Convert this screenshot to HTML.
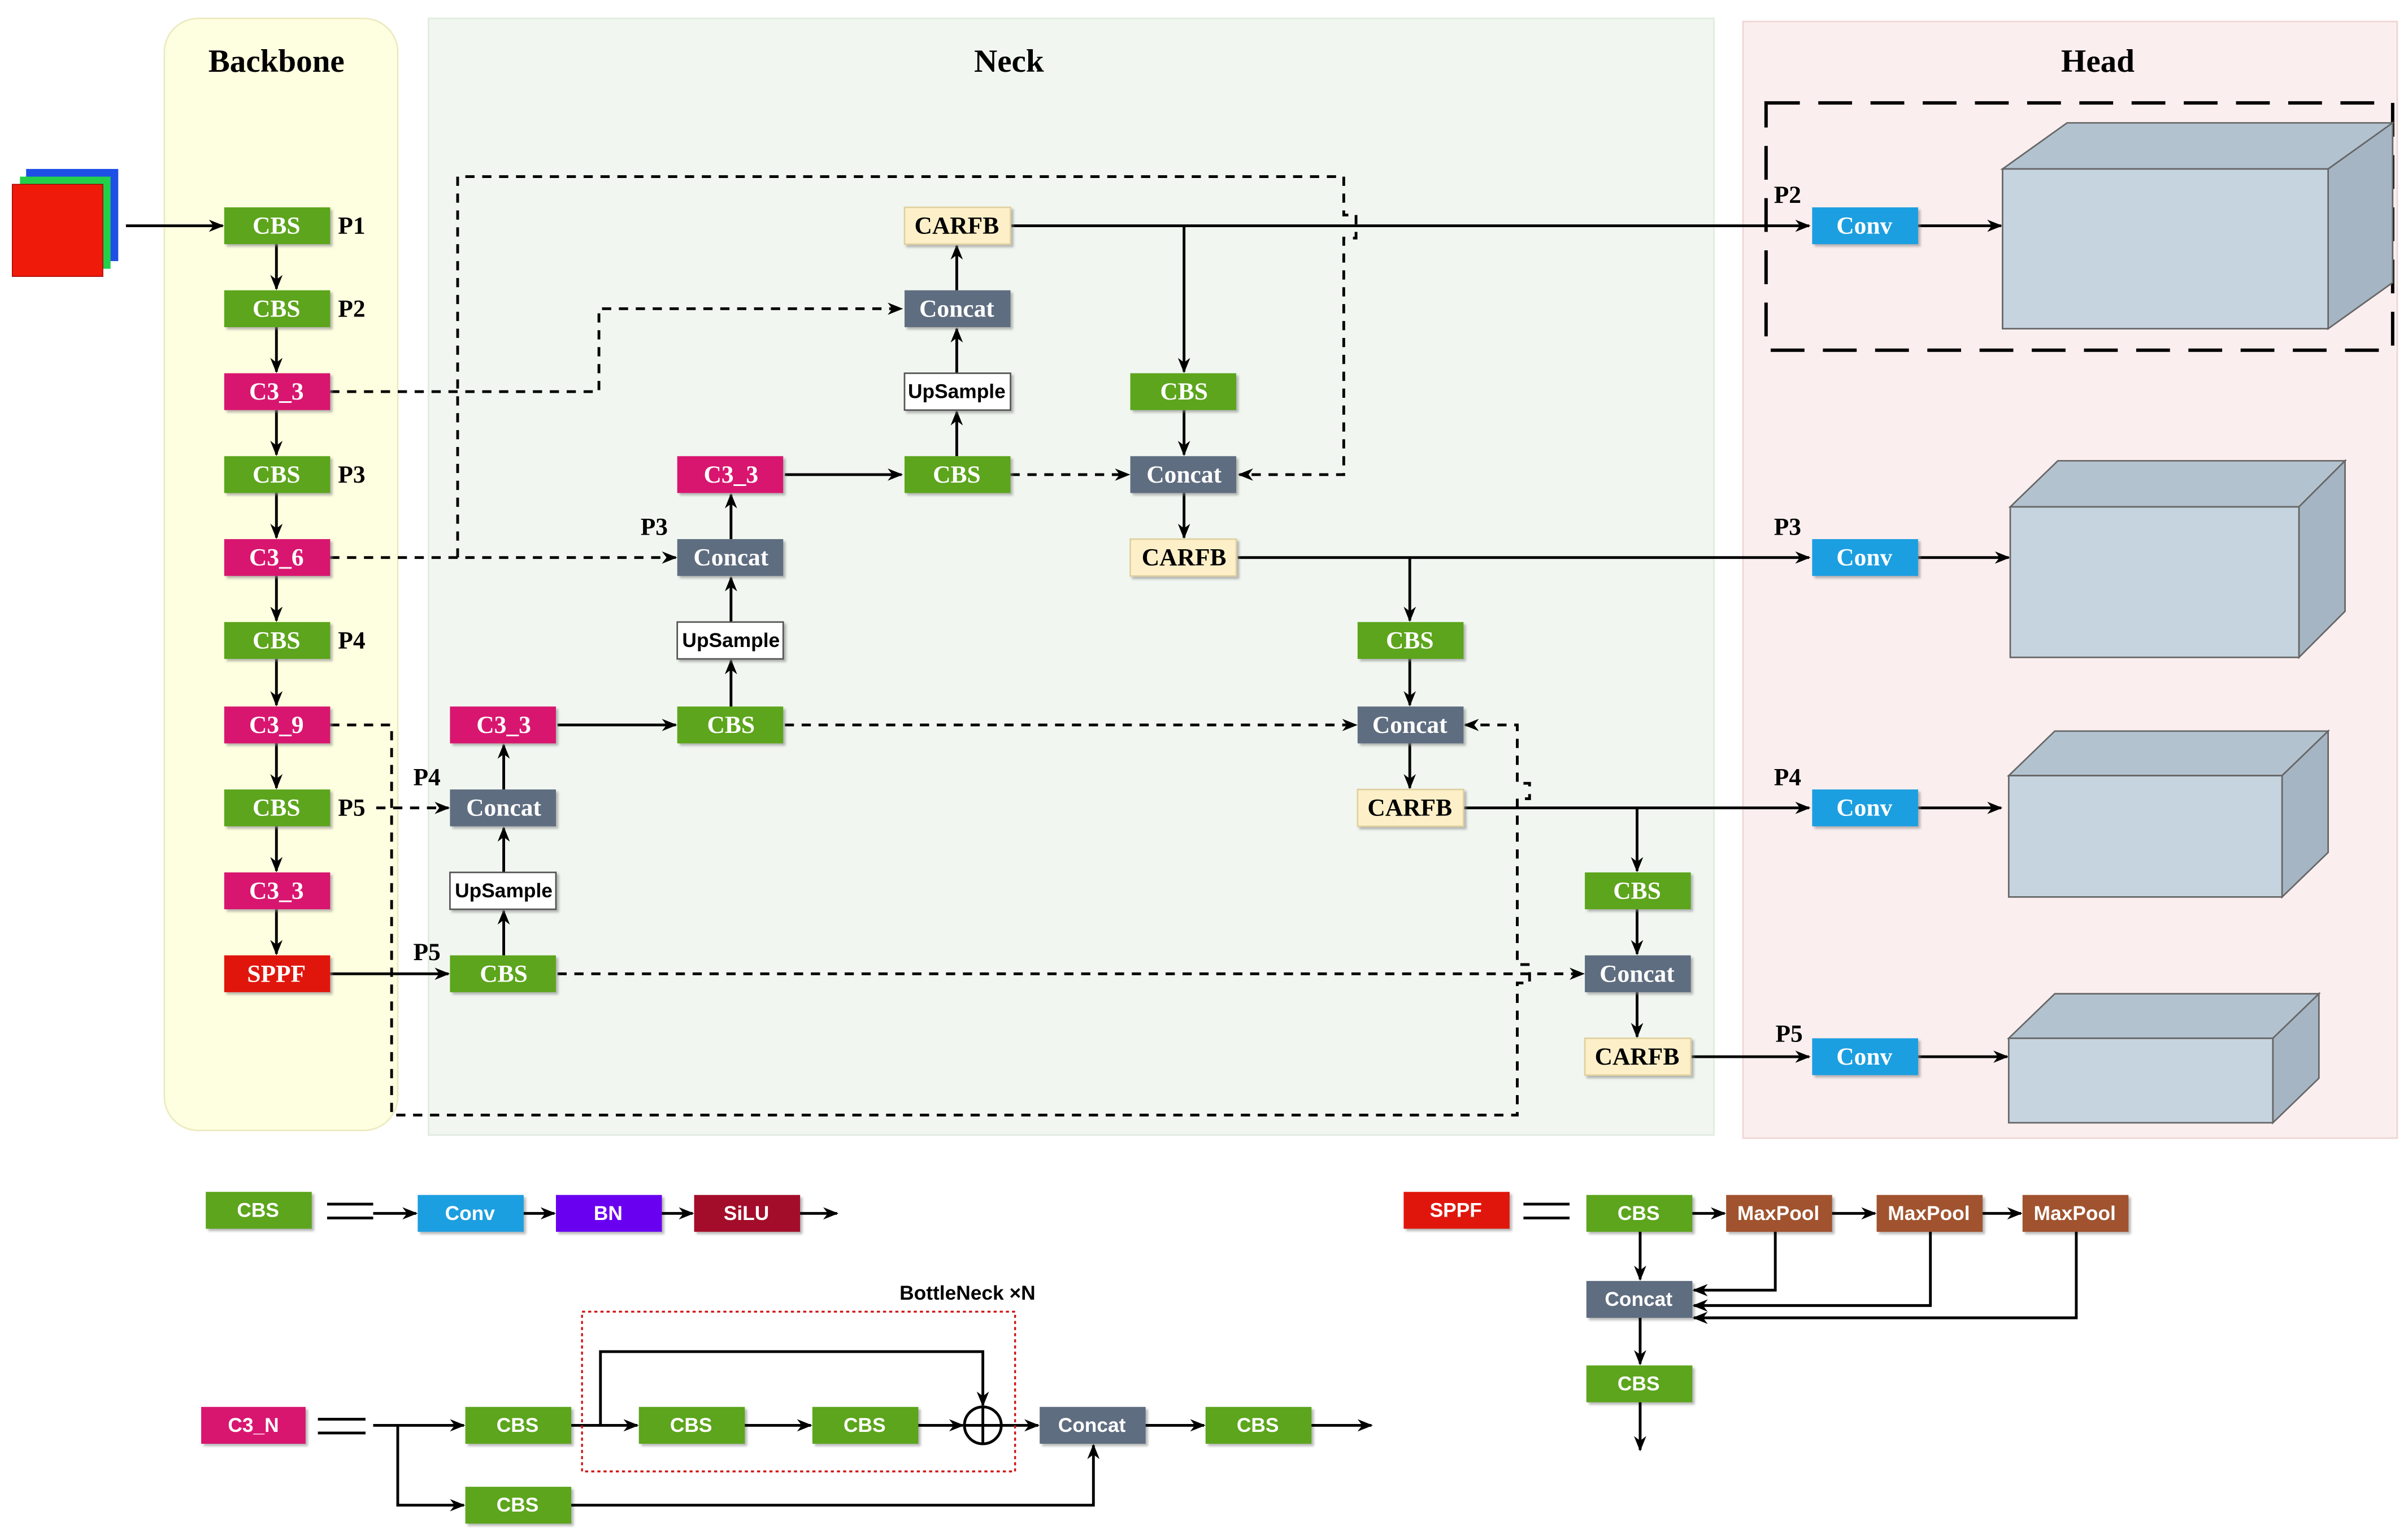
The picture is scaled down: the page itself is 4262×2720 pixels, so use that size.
<!DOCTYPE html>
<html><head><meta charset="utf-8"><style>
html,body{margin:0;padding:0;background:#fff}
svg{display:block}
.s{font-family:"Liberation Serif",serif;font-weight:bold;font-size:16px;text-anchor:middle;dominant-baseline:central}
.a{font-family:"Liberation Sans",sans-serif;font-weight:bold;font-size:13px;text-anchor:middle;dominant-baseline:central}
.w{fill:#fff}
.k{fill:#000}
.ln{stroke:#000;stroke-width:1.8;fill:none}
.ds{stroke:#000;stroke-width:1.8;fill:none;stroke-dasharray:6,5}
</style></head><body>
<svg width="4262" height="2720" viewBox="0 0 1568 1000.7" preserveAspectRatio="none" xmlns="http://www.w3.org/2000/svg">
<defs>
<marker id="ar" markerWidth="10" markerHeight="8" refX="9" refY="4" orient="auto" markerUnits="userSpaceOnUse">
<path d="M0,0 L10,4 L0,8 L3,4 z" fill="#000"/></marker>
<filter id="sh"><feDropShadow dx="1.5" dy="1.5" stdDeviation="0.8" flood-color="#888" flood-opacity="0.6"/></filter>
</defs>
<rect width="1568" height="1001" fill="#fff"/>
<rect x="107" y="12" width="152" height="724" rx="22" fill="#fefee0" stroke="#ecebc0"/>
<rect x="279" y="12" width="837" height="727" fill="#f1f7f0" stroke="#e2ebe0"/>
<rect x="1135" y="14" width="426" height="727" fill="#fbeeee" stroke="#efd5d5"/>
<text x="180" y="40" class="s k" style="font-size:21px">Backbone</text>
<text x="657" y="40" class="s k" style="font-size:21px">Neck</text>
<text x="1366" y="40" class="s k" style="font-size:21px">Head</text>
<rect x="17" y="110" width="60" height="60" fill="#1e50e6"/>
<rect x="13" y="115" width="59" height="60" fill="#22d04a"/>
<rect x="8" y="120" width="59" height="60" fill="#f01a0a" stroke="#900" stroke-width="0.5"/>
<path class="ln" d="M82,147 H145" marker-end="url(#ar)"/>

<rect x="1150" y="67" width="408" height="161" fill="none" stroke="#000" stroke-width="2.2" stroke-dasharray="22,12"/>

<g>
<path class="ln" d="M180,159V188" marker-end="url(#ar)"/>
<path class="ln" d="M180,213V242" marker-end="url(#ar)"/>
<path class="ln" d="M180,267V296" marker-end="url(#ar)"/>
<path class="ln" d="M180,321V350" marker-end="url(#ar)"/>
<path class="ln" d="M180,375V404" marker-end="url(#ar)"/>
<path class="ln" d="M180,429V459" marker-end="url(#ar)"/>
<path class="ln" d="M180,484V513" marker-end="url(#ar)"/>
<path class="ln" d="M180,538V567" marker-end="url(#ar)"/>
<path class="ln" d="M180,592V621" marker-end="url(#ar)"/>
<path class="ds" d="M215,255 H390 V201 H587" marker-end="url(#ar)"/>
<path class="ds" d="M215,363 H440" marker-end="url(#ar)"/>
<path class="ds" d="M298,363 V115 H875 V140 H883 V155 H875 V309 H807" marker-end="url(#ar)"/>
<path class="ds" d="M215,472 H255 V726 H988 V640 H996 V628 H988 V520 H996 V510 H988 V472 H954" marker-end="url(#ar)"/>
<path class="ds" d="M245,526 H292" marker-end="url(#ar)"/>
<path class="ds" d="M363,634 H1031" marker-end="url(#ar)"/>
<path class="ds" d="M511,472 H883" marker-end="url(#ar)"/>
<path class="ds" d="M658,309 H735" marker-end="url(#ar)"/>
<path class="ln" d="M215,634 H292" marker-end="url(#ar)"/>
<path class="ln" d="M511,309 H587" marker-end="url(#ar)"/>
<path class="ln" d="M363,472 H440" marker-end="url(#ar)"/>
<path class="ln" d="M623,297 V268" marker-end="url(#ar)"/>
<path class="ln" d="M623,243 V214" marker-end="url(#ar)"/>
<path class="ln" d="M623,189 V160" marker-end="url(#ar)"/>
<path class="ln" d="M476,460 V430" marker-end="url(#ar)"/>
<path class="ln" d="M476,405 V376" marker-end="url(#ar)"/>
<path class="ln" d="M476,351 V322" marker-end="url(#ar)"/>
<path class="ln" d="M328,622 V593" marker-end="url(#ar)"/>
<path class="ln" d="M328,568 V539" marker-end="url(#ar)"/>
<path class="ln" d="M328,514 V485" marker-end="url(#ar)"/>
<path class="ln" d="M658,147 H1178" marker-end="url(#ar)"/>
<path class="ln" d="M771,147 V242" marker-end="url(#ar)"/>
<path class="ln" d="M771,267 V296" marker-end="url(#ar)"/>
<path class="ln" d="M771,321 V350" marker-end="url(#ar)"/>
<path class="ln" d="M806,363 H1178" marker-end="url(#ar)"/>
<path class="ln" d="M918,363 V404" marker-end="url(#ar)"/>
<path class="ln" d="M918,429 V459" marker-end="url(#ar)"/>
<path class="ln" d="M918,484 V513" marker-end="url(#ar)"/>
<path class="ln" d="M953,526 H1178" marker-end="url(#ar)"/>
<path class="ln" d="M1066,526 V567" marker-end="url(#ar)"/>
<path class="ln" d="M1066,592 V621" marker-end="url(#ar)"/>
<path class="ln" d="M1066,646 V675" marker-end="url(#ar)"/>
<path class="ln" d="M1101,688 H1178" marker-end="url(#ar)"/>
<path class="ln" d="M1249,147 H1303" marker-end="url(#ar)"/>
<path class="ln" d="M1249,363 H1308" marker-end="url(#ar)"/>
<path class="ln" d="M1249,526 H1303" marker-end="url(#ar)"/>
<path class="ln" d="M1249,688 H1307" marker-end="url(#ar)"/>
</g>

<g stroke="#666" stroke-width="1">
<polygon points="1304,110 1346,80 1558,80 1516,110" fill="#b3c2cf"/>
<polygon points="1516,110 1558,80 1558,184 1516,214" fill="#a5b5c3"/>
<rect x="1304" y="110" width="212" height="104" fill="#c6d4e0"/>
<polygon points="1309,330 1340,300 1527,300 1497,330" fill="#b3c2cf"/>
<polygon points="1497,330 1527,300 1527,398 1497,428" fill="#a5b5c3"/>
<rect x="1309" y="330" width="188" height="98" fill="#c6d4e0"/>
<polygon points="1308,505 1338,476 1516,476 1486,505" fill="#b3c2cf"/>
<polygon points="1486,505 1516,476 1516,555 1486,584" fill="#a5b5c3"/>
<rect x="1308" y="505" width="178" height="79" fill="#c6d4e0"/>
<polygon points="1308,676 1338,647 1510,647 1480,676" fill="#b3c2cf"/>
<polygon points="1480,676 1510,647 1510,702 1480,731" fill="#a5b5c3"/>
<rect x="1308" y="676" width="172" height="55" fill="#c6d4e0"/>
</g>

<g filter="url(#sh)">
<rect x="146" y="135" width="69" height="24" fill="#5ca51c"/>
<rect x="146" y="189" width="69" height="24" fill="#5ca51c"/>
<rect x="146" y="243" width="69" height="24" fill="#d8136f"/>
<rect x="146" y="297" width="69" height="24" fill="#5ca51c"/>
<rect x="146" y="351" width="69" height="24" fill="#d8136f"/>
<rect x="146" y="405" width="69" height="24" fill="#5ca51c"/>
<rect x="146" y="460" width="69" height="24" fill="#d8136f"/>
<rect x="146" y="514" width="69" height="24" fill="#5ca51c"/>
<rect x="146" y="568" width="69" height="24" fill="#d8136f"/>
<rect x="146" y="622" width="69" height="24" fill="#e0140c"/>
<rect x="589" y="135" width="69" height="24" fill="#fdf0c8" stroke="#e0d0a0"/>
<rect x="589" y="189" width="69" height="24" fill="#5f6d80"/>
<rect x="589" y="243" width="69" height="24" fill="#fff" stroke="#555"/>
<rect x="589" y="297" width="69" height="24" fill="#5ca51c"/>
<rect x="441" y="297" width="69" height="24" fill="#d8136f"/>
<rect x="441" y="351" width="69" height="24" fill="#5f6d80"/>
<rect x="441" y="405" width="69" height="24" fill="#fff" stroke="#555"/>
<rect x="441" y="460" width="69" height="24" fill="#5ca51c"/>
<rect x="293" y="460" width="69" height="24" fill="#d8136f"/>
<rect x="293" y="514" width="69" height="24" fill="#5f6d80"/>
<rect x="293" y="568" width="69" height="24" fill="#fff" stroke="#555"/>
<rect x="293" y="622" width="69" height="24" fill="#5ca51c"/>
<rect x="736" y="243" width="69" height="24" fill="#5ca51c"/>
<rect x="736" y="297" width="69" height="24" fill="#5f6d80"/>
<rect x="736" y="351" width="69" height="24" fill="#fdf0c8" stroke="#e0d0a0"/>
<rect x="884" y="405" width="69" height="24" fill="#5ca51c"/>
<rect x="884" y="460" width="69" height="24" fill="#5f6d80"/>
<rect x="884" y="514" width="69" height="24" fill="#fdf0c8" stroke="#e0d0a0"/>
<rect x="1032" y="568" width="69" height="24" fill="#5ca51c"/>
<rect x="1032" y="622" width="69" height="24" fill="#5f6d80"/>
<rect x="1032" y="676" width="69" height="24" fill="#fdf0c8" stroke="#e0d0a0"/>
<rect x="1180" y="135" width="69" height="24" fill="#1c9fe0"/>
<rect x="1180" y="351" width="69" height="24" fill="#1c9fe0"/>
<rect x="1180" y="514" width="69" height="24" fill="#1c9fe0"/>
<rect x="1180" y="676" width="69" height="24" fill="#1c9fe0"/>
</g>
<g class="s">
<text x="180" y="147" class="s w">CBS</text><text x="180" y="201" class="s w">CBS</text>
<text x="180" y="255" class="s w">C3_3</text><text x="180" y="309" class="s w">CBS</text>
<text x="180" y="363" class="s w">C3_6</text><text x="180" y="417" class="s w">CBS</text>
<text x="180" y="472" class="s w">C3_9</text><text x="180" y="526" class="s w">CBS</text>
<text x="180" y="580" class="s w">C3_3</text><text x="180" y="634" class="s w">SPPF</text>
<text x="229" y="147" class="s k">P1</text><text x="229" y="201" class="s k">P2</text>
<text x="229" y="309" class="s k">P3</text><text x="229" y="417" class="s k">P4</text>
<text x="229" y="526" class="s k">P5</text>
<text x="623" y="147" class="s k">CARFB</text><text x="623" y="201" class="s w">Concat</text>
<text x="623" y="255" class="a k">UpSample</text><text x="623" y="309" class="s w">CBS</text>
<text x="476" y="309" class="s w">C3_3</text><text x="476" y="363" class="s w">Concat</text>
<text x="476" y="417" class="a k">UpSample</text><text x="476" y="472" class="s w">CBS</text>
<text x="328" y="472" class="s w">C3_3</text><text x="328" y="526" class="s w">Concat</text>
<text x="328" y="580" class="a k">UpSample</text><text x="328" y="634" class="s w">CBS</text>
<text x="426" y="343" class="s k">P3</text><text x="278" y="506" class="s k">P4</text><text x="278" y="620" class="s k">P5</text>
<text x="771" y="255" class="s w">CBS</text><text x="771" y="309" class="s w">Concat</text><text x="771" y="363" class="s k">CARFB</text>
<text x="918" y="417" class="s w">CBS</text><text x="918" y="472" class="s w">Concat</text><text x="918" y="526" class="s k">CARFB</text>
<text x="1066" y="580" class="s w">CBS</text><text x="1066" y="634" class="s w">Concat</text><text x="1066" y="688" class="s k">CARFB</text>
<text x="1214" y="147" class="s w">Conv</text><text x="1214" y="363" class="s w">Conv</text>
<text x="1214" y="526" class="s w">Conv</text><text x="1214" y="688" class="s w">Conv</text>
<text x="1164" y="127" class="s k">P2</text><text x="1164" y="343" class="s k">P3</text>
<text x="1164" y="506" class="s k">P4</text><text x="1165" y="673" class="s k">P5</text>
</g>

<g filter="url(#sh)">
<rect x="134" y="776" width="69" height="24" fill="#5ca51c"/>
<rect x="272" y="778" width="69" height="24" fill="#1c9fe0"/>
<rect x="362" y="778" width="69" height="24" fill="#6a00f0"/>
<rect x="452" y="778" width="69" height="24" fill="#a3102c"/>
<rect x="131" y="916" width="68" height="24" fill="#d8136f"/>
<rect x="303" y="916" width="69" height="24" fill="#5ca51c"/>
<rect x="303" y="968" width="69" height="24" fill="#5ca51c"/>
<rect x="416" y="916" width="69" height="24" fill="#5ca51c"/>
<rect x="529" y="916" width="69" height="24" fill="#5ca51c"/>
<rect x="677" y="916" width="69" height="24" fill="#5f6d80"/>
<rect x="785" y="916" width="69" height="24" fill="#5ca51c"/>
<rect x="914" y="776" width="69" height="24" fill="#e0140c"/>
<rect x="1033" y="778" width="69" height="24" fill="#5ca51c"/>
<rect x="1124" y="778" width="69" height="24" fill="#a0522d"/>
<rect x="1222" y="778" width="69" height="24" fill="#a0522d"/>
<rect x="1317" y="778" width="69" height="24" fill="#a0522d"/>
<rect x="1033" y="834" width="69" height="24" fill="#5f6d80"/>
<rect x="1033" y="889" width="69" height="24" fill="#5ca51c"/>
</g>
<g>
<text x="168" y="788" class="a w">CBS</text><text x="306" y="790" class="a w">Conv</text>
<text x="396" y="790" class="a w">BN</text><text x="486" y="790" class="a w">SiLU</text>
<text x="165" y="928" class="a w">C3_N</text><text x="337" y="928" class="a w">CBS</text>
<text x="337" y="980" class="a w">CBS</text><text x="450" y="928" class="a w">CBS</text>
<text x="563" y="928" class="a w">CBS</text><text x="711" y="928" class="a w">Concat</text>
<text x="819" y="928" class="a w">CBS</text>
<text x="948" y="788" class="a w">SPPF</text><text x="1067" y="790" class="a w">CBS</text>
<text x="1158" y="790" class="a w">MaxPool</text><text x="1256" y="790" class="a w">MaxPool</text>
<text x="1351" y="790" class="a w">MaxPool</text><text x="1067" y="846" class="a w">Concat</text>
<text x="1067" y="901" class="a w">CBS</text>
<text x="630" y="842" class="a k">BottleNeck ×N</text>
</g>
<g class="ln">
<path d="M213,784 H243 M213,793 H243 M207,924 H238 M207,933 H238 M992,784 H1022 M992,793 H1022"/>
<path d="M243,790 H271" marker-end="url(#ar)"/>
<path d="M341,790 H361" marker-end="url(#ar)"/>
<path d="M431,790 H451" marker-end="url(#ar)"/>
<path d="M521,790 H545" marker-end="url(#ar)"/>
<path d="M243,928 H302" marker-end="url(#ar)"/>
<path d="M259,928 V980 H302" marker-end="url(#ar)"/>
<path d="M372,928 H415" marker-end="url(#ar)"/>
<path d="M391,928 V880 H640 V915" marker-end="url(#ar)"/>
<path d="M485,928 H528" marker-end="url(#ar)"/>
<path d="M598,928 H627" marker-end="url(#ar)"/>
<path d="M652,928 H676" marker-end="url(#ar)"/>
<path d="M746,928 H784" marker-end="url(#ar)"/>
<path d="M854,928 H893" marker-end="url(#ar)"/>
<path d="M372,980 H712 V941" marker-end="url(#ar)"/>
<circle cx="640" cy="928" r="12"/>
<path d="M628,928 H652 M640,916 V940"/>
<path d="M1102,790 H1123" marker-end="url(#ar)"/>
<path d="M1193,790 H1221" marker-end="url(#ar)"/>
<path d="M1291,790 H1316" marker-end="url(#ar)"/>
<path d="M1068,802 V833" marker-end="url(#ar)"/>
<path d="M1156,802 V840 H1103" marker-end="url(#ar)"/>
<path d="M1257,802 V850 H1103" marker-end="url(#ar)"/>
<path d="M1352,802 V858 H1103" marker-end="url(#ar)"/>
<path d="M1068,858 V888" marker-end="url(#ar)"/>
<path d="M1068,913 V944" marker-end="url(#ar)"/>
</g>
<rect x="379" y="854" width="282" height="104" fill="none" stroke="#d01010" stroke-width="1.2" stroke-dasharray="2,2"/>
</svg>
</body></html>
